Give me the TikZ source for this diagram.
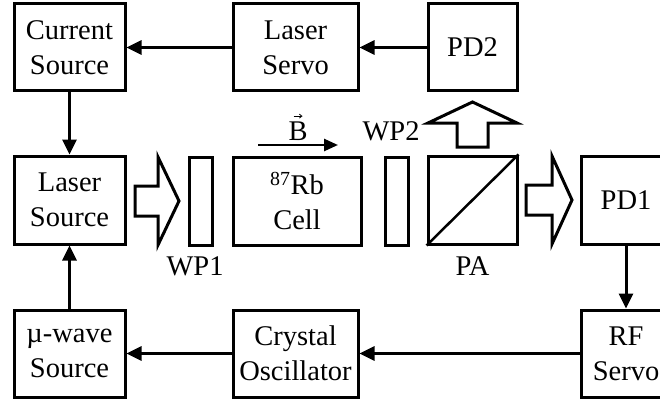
\documentclass[tikz,border=0pt]{standalone}
\usepackage{fontspec}
\setmainfont{Liberation Serif}
\usetikzlibrary{arrows.meta}
\begin{document}
\begin{tikzpicture}[x=1pt,y=-1pt,
  txt/.style={font=\fontsize{28.5}{35}\selectfont},
  box/.style={draw, line width=3pt, align=center, inner sep=0pt, txt},
  blk/.style={box, minimum width=111pt, minimum height=87pt},
  wide/.style={box, minimum width=125pt, minimum height=87pt},
  plate/.style={draw, line width=3pt, inner sep=0pt, minimum width=23pt, minimum height=88pt},
  lbl/.style={txt, inner sep=0pt, anchor=base},
  sig/.style={line width=3pt, -{Triangle[length=15pt,width=14pt]}},
  hollow/.style={draw, line width=3pt, line join=miter, fill=white}]
\clip (0,0) rectangle (660,401);
% top row
\node[blk] (cur) at (69.5,47.5) {Current\\Source};
\node[wide] (lservo) at (295.5,47.5) {Laser\\Servo};
\node[box, minimum width=89pt, minimum height=87pt] (pd2) at (472.5,47.5) {PD2};
% middle row
\node[blk, minimum height=88pt] (lsrc) at (69.5,200) {Laser\\Source};
\node[plate] (wp1) at (200.5,201) {};
\node[box, minimum width=128pt, minimum height=88pt] (cell) at (297,201) {\textsuperscript{87}Rb\\Cell};
\node[plate] (wp2) at (396.5,201) {};
\node[box, minimum width=89pt, minimum height=88pt] (pa) at (472.5,200) {};
\draw[line width=2.5pt] (pa.south west) -- (pa.north east);
\node[box, minimum width=90pt, minimum height=88pt] (pd1) at (626,200) {PD1};
% bottom row
\node[blk] (mu) at (69.5,353.5) {\textmu-wave\\Source};
\node[wide] (xo) at (295.5,353.5) {Crystal\\Oscillator};
\node[box, minimum width=90pt, minimum height=87pt] (rf) at (626,353.5) {RF\\Servo};
% labels
\node[lbl] (l1) at (195,275) {WP1};
\node[lbl] (l2) at (472.5,275) {PA};
\node[lbl] (l3) at (391,140) {WP2};
\node[lbl] (lb) at (298,140) {B};
\draw[line width=0.8pt, -{Straight Barb[length=2.5pt,width=4pt]}] ([xshift=-4.5pt,yshift=5pt]lb.north) -- ([xshift=4.5pt,yshift=5pt]lb.north);
\coordinate (b1) at (258,145);
\coordinate (b2) at (338,145);
\draw[line width=2.5pt, -{Triangle[length=14pt,width=12pt]}] (b1) -- (b2);
% signal arrows
\draw[sig] (lservo.west) -- (cur.east);
\draw[sig] (pd2.west) -- (lservo.east);
\draw[sig] (cur.south) -- (lsrc.north);
\draw[sig] (mu.north) -- (lsrc.south);
\draw[sig] (pd1.south) -- (rf.north);
\draw[sig] (rf.west) -- (xo.east);
\draw[sig] (xo.west) -- (mu.east);
% hollow beam arrows
\draw[hollow] (135,186) -- (158,186) -- (158,157) -- (179,201) -- (158,245) -- (158,216) -- (135,216) -- cycle;
\draw[hollow] (526,185) -- (552,185) -- (552,156) -- (572,200) -- (552,244) -- (552,215) -- (526,215) -- cycle;
\draw[hollow] (457,147) -- (457,123) -- (428,123) -- (472.5,102) -- (517,123) -- (488,123) -- (488,147) -- cycle;
\end{tikzpicture}
\end{document}
